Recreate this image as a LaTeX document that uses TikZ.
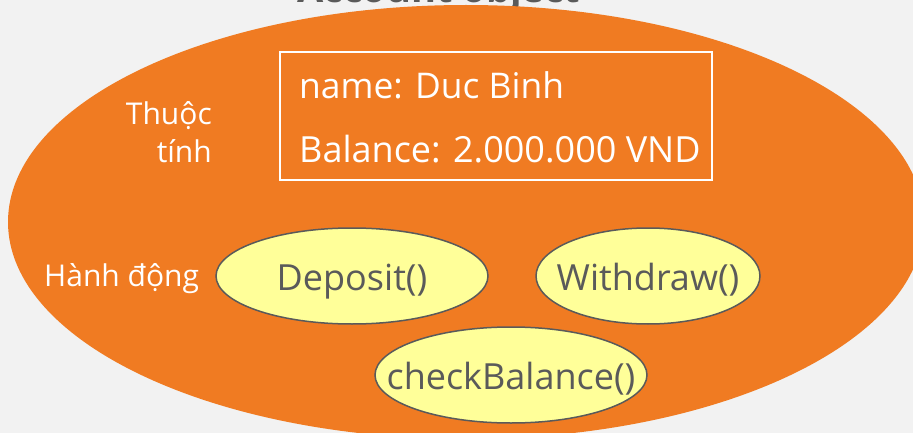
\documentclass[tikz,border=0pt]{standalone}
\usepackage{fontspec}
\setmainfont{Open Sans}
\definecolor{bgc}{HTML}{F2F2F2}
\definecolor{orangec}{HTML}{F07B22}
\definecolor{yellowc}{HTML}{FFFF99}
\definecolor{grayc}{HTML}{5A5A5A}
\tikzset{
  op/.style={ellipse,draw=grayc,line width=1.5pt,fill=yellowc,text=grayc,inner sep=0pt,font=\fontsize{36}{36}\selectfont,text height=28pt,text depth=0pt},
  lbl/.style={text=white,inner sep=0pt,font=\fontsize{30}{30}\selectfont},
  attr/.style={text=white,inner sep=0pt,anchor=base west,font=\fontsize{36}{36}\selectfont},
}
\usetikzlibrary{shapes.geometric}
\begin{document}
\begin{tikzpicture}[x=1pt,y=-1pt]
\useasboundingbox[fill=bgc] (0,0) rectangle (913,433);
\clip (0,0) rectangle (913,433);
\node[text=grayc,font=\bfseries\fontsize{38}{38}\selectfont,anchor=base,inner sep=0pt] (title) at (439,3) {Account object};
\node[ellipse,fill=orangec,minimum width=916pt,minimum height=434pt,inner sep=0pt] (obj) at (466,222) {};
\node[draw=white,line width=1.5pt,minimum width=432pt,minimum height=128pt,inner sep=0pt] (box) at (496,116) {};
\node[attr,font=\fontsize{35.4}{36}\selectfont] (name) at (299,99) {name: Duc Binh};
\node[attr] (bal) at (299,163) {Balance: 2.000.000 VND};
\node[lbl,anchor=base east] (t1) at (212,125) {Thuộc};
\node[lbl,anchor=base east] (t2) at (212,163) {tính};
\node[lbl,anchor=base west] (act) at (44,286) {Hành động};
\node[op,minimum width=272pt,minimum height=96pt] (dep) at (352,276) {\makebox[0pt]{Deposit()}};
\node[op,minimum width=224pt,minimum height=96pt] (wd) at (648,276) {\makebox[0pt]{Withdraw()}};
\node[op,minimum width=272pt,minimum height=96pt] (chk) at (511,375) {\makebox[0pt]{checkBalance()}};
\end{tikzpicture}
\end{document}
